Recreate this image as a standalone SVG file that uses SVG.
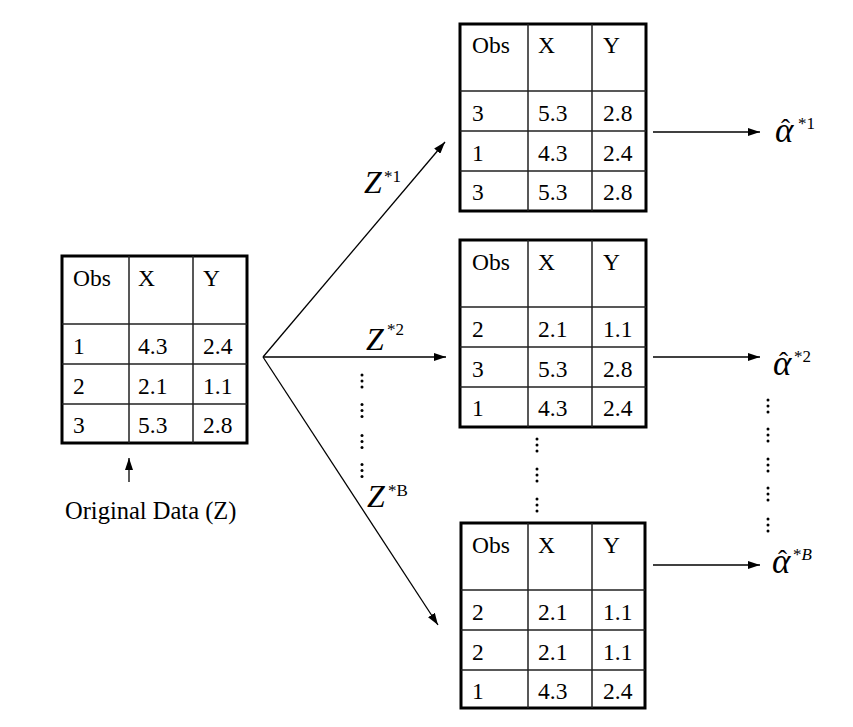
<svg xmlns="http://www.w3.org/2000/svg" width="853" height="727" viewBox="0 0 853 727">
<defs>
<style>
.t{font-family:"Liberation Serif","Times New Roman",serif;font-size:23.5px;fill:#000}
.lbl{font-family:"Liberation Serif","Times New Roman",serif;fill:#000}
.z{font-size:32px;font-style:italic}
.sup{font-size:17px;font-style:normal}
.al{font-size:35px;font-style:italic}
.hat{font-size:27px;font-style:normal}
.outer{fill:#fff;stroke:#000;stroke-width:3}
.inner{stroke:#222;stroke-width:1.5;fill:none}
.conn{stroke:#000;stroke-width:1.3;fill:none;marker-end:url(#ah)}
.dot{fill:#000}
</style>
<marker id="ah" viewBox="0 0 12 8" refX="12" refY="4" markerWidth="12" markerHeight="8" markerUnits="userSpaceOnUse" orient="auto">
<path d="M0,0 L12,4 L0,8 z" fill="#000"/>
</marker>
</defs>
<rect width="853" height="727" fill="#fff"/>

<g id="original-table">
<rect class="outer" x="62" y="256" width="185" height="187"/>
<path class="inner" d="M129,256V443M193,256V443M62,324H247M62,364H247M62,404H247"/>
<text class="t" x="73" y="286">Obs</text><text class="t" x="138" y="286">X</text><text class="t" x="203" y="286">Y</text>
<text class="t" x="73" y="354">1</text><text class="t" x="138" y="354">4.3</text><text class="t" x="203" y="354">2.4</text>
<text class="t" x="73" y="394">2</text><text class="t" x="138" y="394">2.1</text><text class="t" x="203" y="394">1.1</text>
<text class="t" x="73" y="433">3</text><text class="t" x="138" y="433">5.3</text><text class="t" x="203" y="433">2.8</text>
</g>

<g id="original-label">
<text class="lbl" x="65" y="519" font-size="24.5">Original Data (Z)</text>
</g>

<g id="table-1">
<rect class="outer" x="460" y="24" width="186" height="187"/>
<path class="inner" d="M528,24V211M592,24V211M460,91H646M460,131H646M460,171H646"/>
<text class="t" x="472" y="53">Obs</text><text class="t" x="538" y="53">X</text><text class="t" x="603" y="53">Y</text>
<text class="t" x="472" y="121">3</text><text class="t" x="538" y="121">5.3</text><text class="t" x="603" y="121">2.8</text>
<text class="t" x="472" y="161">1</text><text class="t" x="538" y="161">4.3</text><text class="t" x="603" y="161">2.4</text>
<text class="t" x="472" y="200">3</text><text class="t" x="538" y="200">5.3</text><text class="t" x="603" y="200">2.8</text>
</g>

<g id="table-2">
<rect class="outer" x="460" y="240" width="186" height="187"/>
<path class="inner" d="M528,240V427M592,240V427M460,307H646M460,347H646M460,387H646"/>
<text class="t" x="472" y="270">Obs</text><text class="t" x="538" y="270">X</text><text class="t" x="603" y="270">Y</text>
<text class="t" x="472" y="337">2</text><text class="t" x="538" y="337">2.1</text><text class="t" x="603" y="337">1.1</text>
<text class="t" x="472" y="377">3</text><text class="t" x="538" y="377">5.3</text><text class="t" x="603" y="377">2.8</text>
<text class="t" x="472" y="416">1</text><text class="t" x="538" y="416">4.3</text><text class="t" x="603" y="416">2.4</text>
</g>

<g id="table-B">
<rect class="outer" x="461" y="523" width="184" height="185"/>
<path class="inner" d="M528,523V708M592,523V708M461,590H645M461,630H645M461,670H645"/>
<text class="t" x="472" y="553">Obs</text><text class="t" x="538" y="553">X</text><text class="t" x="603" y="553">Y</text>
<text class="t" x="472" y="620">2</text><text class="t" x="538" y="620">2.1</text><text class="t" x="603" y="620">1.1</text>
<text class="t" x="472" y="660">2</text><text class="t" x="538" y="660">2.1</text><text class="t" x="603" y="660">1.1</text>
<text class="t" x="472" y="699">1</text><text class="t" x="538" y="699">4.3</text><text class="t" x="603" y="699">2.4</text>
</g>

<g id="connectors">
<line class="conn" x1="263" y1="357" x2="445" y2="142"/>
<line class="conn" x1="263" y1="357" x2="446" y2="357"/>
<line class="conn" x1="263" y1="357" x2="438" y2="625"/>
<line class="conn" x1="653" y1="132" x2="760" y2="132"/>
<line class="conn" x1="653" y1="357" x2="760" y2="357"/>
<line class="conn" x1="653" y1="565" x2="760" y2="565"/>
<line class="conn" x1="129" y1="482" x2="129" y2="458"/>
</g>

<g id="z-labels">
<text class="lbl" x="364" y="193"><tspan class="z">Z</tspan><tspan class="sup" x="384" y="182">*1</tspan></text>
<text class="lbl" x="366" y="350"><tspan class="z">Z</tspan><tspan class="sup" x="387" y="335">*2</tspan></text>
<text class="lbl" x="367" y="507"><tspan class="z">Z</tspan><tspan class="sup" x="388" y="496">*B</tspan></text>
</g>

<g id="alpha-1">
<text class="lbl" x="775" y="142"><tspan class="al">α</tspan><tspan class="hat" x="781" y="138">ˆ</tspan><tspan class="sup" x="798" y="129">*1</tspan></text>
</g>
<g id="alpha-2">
<text class="lbl" x="773" y="375"><tspan class="al">α</tspan><tspan class="hat" x="779" y="371">ˆ</tspan><tspan class="sup" x="794" y="362">*2</tspan></text>
</g>
<g id="alpha-B">
<text class="lbl" x="772" y="573"><tspan class="al">α</tspan><tspan class="hat" x="778" y="569">ˆ</tspan><tspan class="sup" x="793" y="560">*<tspan font-style="italic">B</tspan></tspan></text>
</g>

<g id="dots">
<circle class="dot" cx="362" cy="375" r="1.5"/><circle class="dot" cx="362" cy="381" r="1.5"/><circle class="dot" cx="362" cy="387" r="1.5"/>
<circle class="dot" cx="362" cy="404.5" r="1.5"/><circle class="dot" cx="362" cy="410.5" r="1.5"/><circle class="dot" cx="362" cy="416.5" r="1.5"/>
<circle class="dot" cx="362" cy="435.5" r="1.5"/><circle class="dot" cx="362" cy="441.5" r="1.5"/><circle class="dot" cx="362" cy="447.5" r="1.5"/>
<circle class="dot" cx="362" cy="464.5" r="1.5"/><circle class="dot" cx="362" cy="470.5" r="1.5"/><circle class="dot" cx="362" cy="476.5" r="1.5"/>
<circle class="dot" cx="537" cy="439" r="1.5"/><circle class="dot" cx="537" cy="445" r="1.5"/><circle class="dot" cx="537" cy="451" r="1.5"/>
<circle class="dot" cx="537" cy="469" r="1.5"/><circle class="dot" cx="537" cy="475" r="1.5"/><circle class="dot" cx="537" cy="481" r="1.5"/>
<circle class="dot" cx="537" cy="499" r="1.5"/><circle class="dot" cx="537" cy="505" r="1.5"/><circle class="dot" cx="537" cy="511" r="1.5"/>
<circle class="dot" cx="768" cy="400" r="1.5"/><circle class="dot" cx="768" cy="406" r="1.5"/><circle class="dot" cx="768" cy="412" r="1.5"/>
<circle class="dot" cx="768" cy="429" r="1.5"/><circle class="dot" cx="768" cy="435" r="1.5"/><circle class="dot" cx="768" cy="441" r="1.5"/>
<circle class="dot" cx="768" cy="459" r="1.5"/><circle class="dot" cx="768" cy="465" r="1.5"/><circle class="dot" cx="768" cy="471" r="1.5"/>
<circle class="dot" cx="768" cy="488" r="1.5"/><circle class="dot" cx="768" cy="494" r="1.5"/><circle class="dot" cx="768" cy="500" r="1.5"/>
<circle class="dot" cx="768" cy="519" r="1.5"/><circle class="dot" cx="768" cy="525" r="1.5"/><circle class="dot" cx="768" cy="531" r="1.5"/>
</g>
</svg>
